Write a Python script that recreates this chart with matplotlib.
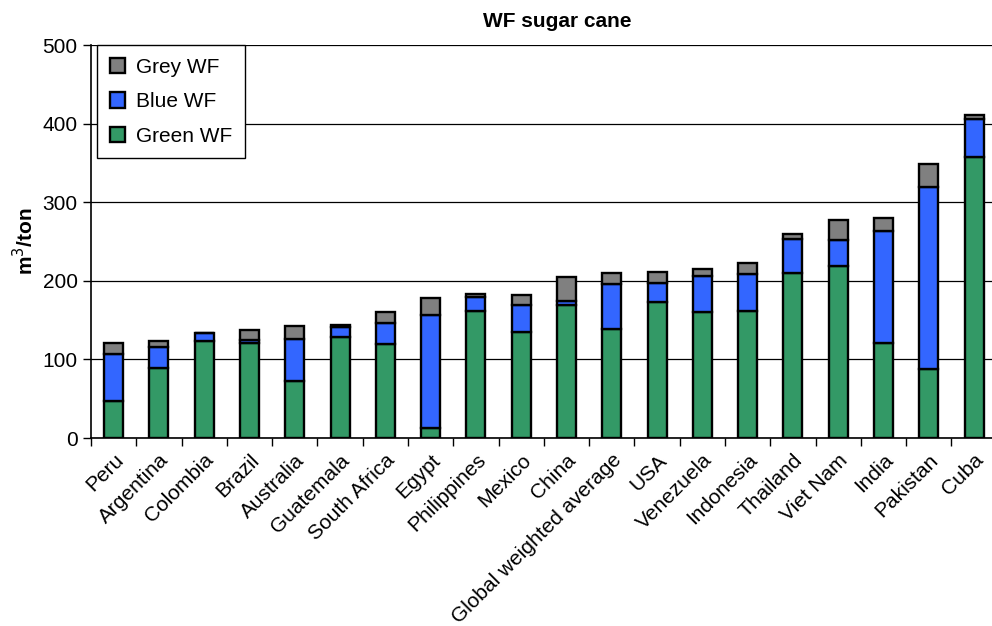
import numpy as np
import matplotlib.pyplot as plt

plt.rcParams['font.family'] = ['Liberation Sans', 'DejaVu Sans']

countries = ['Peru', 'Argentina', 'Colombia', 'Brazil', 'Australia', 'Guatemala',
             'South Africa', 'Egypt', 'Philippines', 'Mexico', 'China',
             'Global weighted average', 'USA', 'Venezuela', 'Indonesia', 'Thailand',
             'Viet Nam', 'India', 'Pakistan', 'Cuba']

green = [47.5, 89.5, 124, 121, 72, 129, 119, 13, 162, 134.5, 169, 139, 173.5,
         160, 161.5, 209.5, 218.5, 121, 88, 357.5]
blue = [59.5, 26.5, 10, 4, 53.5, 12.5, 27, 143.5, 18, 34.5, 5.5, 57, 23.5,
        46, 47.5, 43.5, 34, 142, 231, 48.5]
grey = [14, 7.5, 0, 13, 16.5, 2.5, 14, 22, 3, 13, 30.5, 13.5, 14, 9.5,
        13.5, 6, 24.5, 17, 30, 4.5]

c_green = '#339966'
c_blue = '#3366ff'
c_grey = '#808080'

fig = plt.figure(figsize=(9.92, 6.26), dpi=100)
ax = fig.add_axes([0.0917, 0.3003, 0.913, 0.6277])

x = np.arange(len(countries))
g = np.array(green)
b = np.array(blue)
w = 0.42
kw = dict(edgecolor='black', linewidth=1.7, zorder=3)
ax.bar(x, green, w, color=c_green, label='Green WF', **kw)
ax.bar(x, blue, w, bottom=g, color=c_blue, label='Blue WF', **kw)
ax.bar(x, grey, w, bottom=g + b, color=c_grey, label='Grey WF', **kw)

ax.set_xlim(-0.5, len(countries) - 0.5)
ax.set_ylim(0, 500)
ax.set_yticks([0, 100, 200, 300, 400, 500])
ax.yaxis.grid(True, color='black', linewidth=0.9, zorder=0)
ax.set_axisbelow(True)

ax.set_xticks(x)
ax.set_xticklabels(countries, rotation=45, ha='right', rotation_mode='anchor',
                   fontsize=15)
ax.tick_params(axis='x', length=0, pad=9)
ax.set_xticks(np.arange(len(countries) + 1) - 0.5, minor=True)
ax.tick_params(axis='x', which='minor', length=6, width=1)
ax.tick_params(axis='y', labelsize=15, length=6, width=1)

for s in ['top', 'right']:
    ax.spines[s].set_visible(False)
ax.spines['left'].set_linewidth(1.2)
ax.spines['bottom'].set_linewidth(1.2)

ax.set_ylabel('m$^3$/ton', fontsize=15, fontweight='bold', labelpad=4)
ax.set_title('WF sugar cane', fontsize=15, fontweight='bold', pad=13, x=0.515)

h, l = ax.get_legend_handles_labels()
leg = ax.legend(h[::-1], l[::-1], loc='upper left', fontsize=15, fancybox=False,
                framealpha=1, edgecolor='black', handlelength=0.75, handleheight=0.75,
                handletextpad=0.5, labelspacing=0.75, borderpad=0.6,
                borderaxespad=0.0, bbox_to_anchor=(0.007, 1.0))
leg.get_frame().set_linewidth(1)

fig.savefig('out.png', dpi=100)
